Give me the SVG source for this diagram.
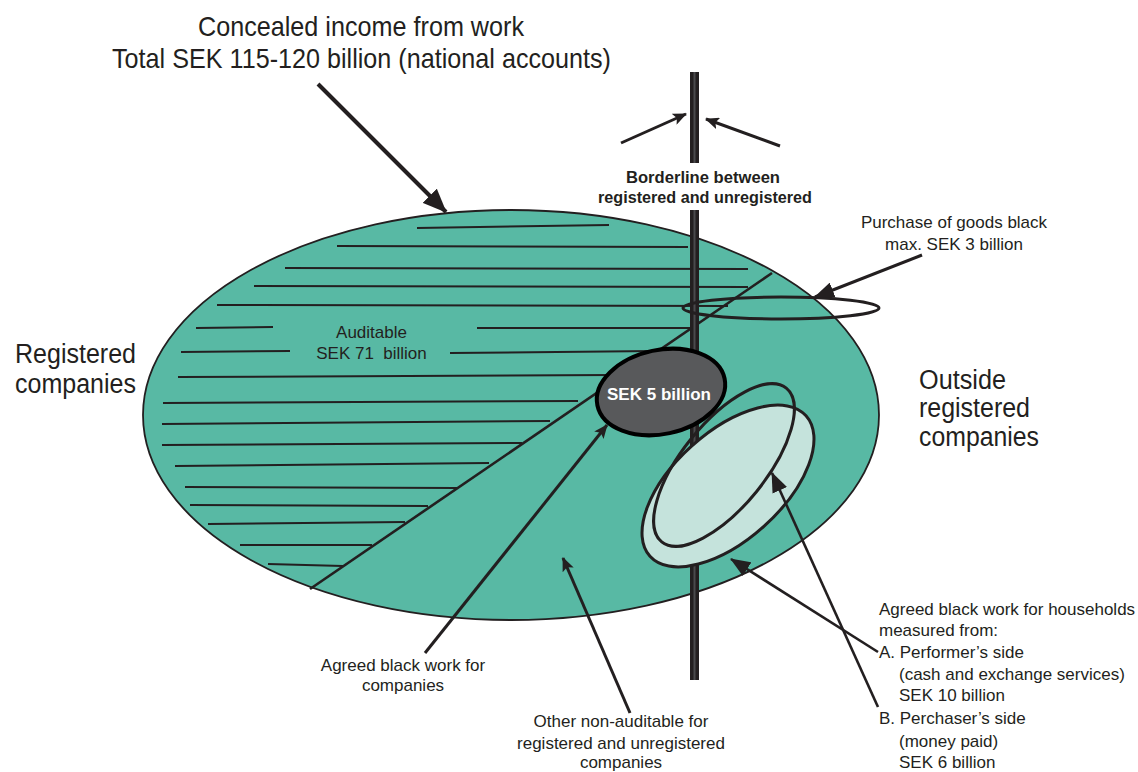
<svg xmlns="http://www.w3.org/2000/svg" width="1138" height="772" viewBox="0 0 1138 772">
<style>
text{font-family:"Liberation Sans",Arial,sans-serif;fill:#231f20}
.t17{font-size:17px}
.big{font-size:27px}
.title{font-size:28px}
.bold{font-weight:bold}
.hatch{stroke:#231f20;stroke-width:2;fill:none}
.conn{stroke:#231f20;fill:none}
</style>
<defs>
<marker id="ahBig" viewBox="0 0 24 20" refX="23" refY="10" markerWidth="24" markerHeight="20" orient="auto" markerUnits="userSpaceOnUse"><path d="M0,0 L24,10 L0,20 z" fill="#231f20"/></marker>
<marker id="ahMid" viewBox="0 0 20 16" refX="19" refY="8" markerWidth="20" markerHeight="16" orient="auto" markerUnits="userSpaceOnUse"><path d="M0,0 L20,8 L0,16 z" fill="#231f20"/></marker>
<marker id="ahSm" viewBox="0 0 14 12" refX="13" refY="6" markerWidth="14" markerHeight="12" orient="auto" markerUnits="userSpaceOnUse"><path d="M0,0 L14,6 L0,12 L3,6 z" fill="#231f20"/></marker>
</defs>
<rect width="1138" height="772" fill="#fff"/>

<g id="total-ellipse">
<ellipse cx="511" cy="415" rx="368" ry="205" fill="#58b9a4" stroke="#231f20" stroke-width="1.8"/>
</g>

<g id="auditable">
<line class="hatch" x1="417" y1="228" x2="609" y2="225"/>
<line class="hatch" x1="337" y1="246" x2="688" y2="247"/>
<line class="hatch" x1="285" y1="268" x2="748" y2="269"/>
<line class="hatch" x1="254" y1="286" x2="748" y2="287"/>
<line class="hatch" x1="217" y1="305" x2="728" y2="306"/>
<line class="hatch" x1="196" y1="328" x2="273" y2="327"/>
<line class="hatch" x1="477" y1="328" x2="693" y2="328"/>
<line class="hatch" x1="181" y1="352" x2="290" y2="351"/>
<line class="hatch" x1="450" y1="353" x2="655" y2="351"/>
<line class="hatch" x1="178" y1="377" x2="613" y2="375"/>
<line class="hatch" x1="163" y1="403" x2="578" y2="401"/>
<line class="hatch" x1="162" y1="424" x2="550" y2="421"/>
<line class="hatch" x1="162" y1="445" x2="522" y2="443"/>
<line class="hatch" x1="175" y1="466" x2="489" y2="463"/>
<line class="hatch" x1="185" y1="487" x2="457" y2="488"/>
<line class="hatch" x1="190" y1="505" x2="428" y2="506"/>
<line class="hatch" x1="208" y1="524" x2="405" y2="522"/>
<line class="hatch" x1="240" y1="545" x2="372" y2="545"/>
<line class="hatch" x1="268" y1="564" x2="343" y2="566"/>
<text class="t17" x="371.5" y="338" text-anchor="middle">Auditable</text>
<text class="t17" x="371.5" y="359" text-anchor="middle" xml:space="preserve">SEK 71  billion</text>
</g>

<g id="divider">
<line x1="310" y1="589" x2="772" y2="273" stroke="#231f20" stroke-width="2.6"/>
</g>

<g id="borderline">
<rect x="690" y="72" width="9" height="91" fill="#231f20"/>
<rect x="693.5" y="72" width="2" height="91" fill="#4a4a4c"/>
<rect x="690" y="210" width="9" height="470" fill="#231f20"/>
<rect x="693.5" y="210" width="2" height="470" fill="#4a4a4c"/>
<text class="bold" x="703" y="183" text-anchor="middle" font-size="16.5" textLength="154" lengthAdjust="spacingAndGlyphs">Borderline between</text>
<text class="bold" x="705" y="203" text-anchor="middle" font-size="16.5" textLength="214" lengthAdjust="spacingAndGlyphs">registered and unregistered</text>
</g>

<g id="purchase-goods">
<ellipse cx="781" cy="308" rx="98" ry="11" fill="none" stroke="#231f20" stroke-width="3"/>
<text class="t17" x="954" y="228" text-anchor="middle">Purchase of goods black</text>
<text class="t17" x="954" y="250" text-anchor="middle">max. SEK 3 billion</text>
</g>

<g id="households">
<ellipse cx="728" cy="486" rx="105" ry="54" transform="rotate(-42 728 486)" fill="#c5e3dc" stroke="#231f20" stroke-width="3"/>
<ellipse cx="724" cy="465" rx="99" ry="42" transform="rotate(-51 724 465)" fill="none" stroke="#231f20" stroke-width="3"/>
</g>

<g id="companies-black">
<ellipse cx="661" cy="392" rx="65" ry="42" transform="rotate(-12 661 392)" fill="#58595b" stroke="#000" stroke-width="4"/>
<text class="bold" x="659" y="400" text-anchor="middle" font-size="17" style="fill:#fff" textLength="104" lengthAdjust="spacingAndGlyphs">SEK 5 billion</text>
</g>

<g id="title">
<text class="title" x="361" y="36" text-anchor="middle" textLength="326" lengthAdjust="spacingAndGlyphs">Concealed income from work</text>
<text class="title" x="361.5" y="68" text-anchor="middle" textLength="499" lengthAdjust="spacingAndGlyphs">Total SEK 115-120 billion (national accounts)</text>
</g>

<g id="registered">
<text class="big" x="15" y="363" textLength="121" lengthAdjust="spacingAndGlyphs">Registered</text>
<text class="big" x="15" y="393" textLength="121" lengthAdjust="spacingAndGlyphs">companies</text>
</g>

<g id="outside">
<text class="big" x="919" y="389" textLength="87" lengthAdjust="spacingAndGlyphs">Outside</text>
<text class="big" x="919" y="417" textLength="111" lengthAdjust="spacingAndGlyphs">registered</text>
<text class="big" x="919" y="446" textLength="120" lengthAdjust="spacingAndGlyphs">companies</text>
</g>

<g id="label-companies">
<text class="t17" x="403" y="671" text-anchor="middle">Agreed black work for</text>
<text class="t17" x="403" y="691" text-anchor="middle">companies</text>
</g>

<g id="label-other">
<text class="t17" x="621" y="727" text-anchor="middle">Other non-auditable for</text>
<text class="t17" x="621" y="749" text-anchor="middle">registered and unregistered</text>
<text class="t17" x="621" y="768" text-anchor="middle">companies</text>
</g>

<g id="label-households">
<text class="t17" x="879" y="615">Agreed black work for households</text>
<text class="t17" x="879" y="636">measured from:</text>
<text class="t17" x="879" y="658">A. Performer’s side</text>
<text class="t17" x="899" y="680">(cash and exchange services)</text>
<text class="t17" x="899" y="701">SEK 10 billion</text>
<text class="t17" x="879" y="724">B. Perchaser’s side</text>
<text class="t17" x="899" y="747">(money paid)</text>
<text class="t17" x="899" y="768">SEK 6 billion</text>
</g>

<g id="connectors">
<line class="conn" x1="318" y1="84" x2="446" y2="212" stroke-width="4" marker-end="url(#ahBig)"/>
<line class="conn" x1="621" y1="143" x2="686" y2="114" stroke-width="3" marker-end="url(#ahSm)"/>
<line class="conn" x1="780" y1="146" x2="706" y2="119" stroke-width="3" marker-end="url(#ahSm)"/>
<line class="conn" x1="922" y1="255" x2="815" y2="297" stroke-width="3" marker-end="url(#ahMid)"/>
<line class="conn" x1="878" y1="652" x2="731" y2="559" stroke-width="2.6" marker-end="url(#ahMid)"/>
<line class="conn" x1="878" y1="707" x2="772" y2="473" stroke-width="2.6" marker-end="url(#ahMid)"/>
<line class="conn" x1="425" y1="653" x2="607" y2="425" stroke-width="3" marker-end="url(#ahSm)"/>
<line class="conn" x1="630" y1="713" x2="563" y2="558" stroke-width="3" marker-end="url(#ahSm)"/>
</g>
</svg>
